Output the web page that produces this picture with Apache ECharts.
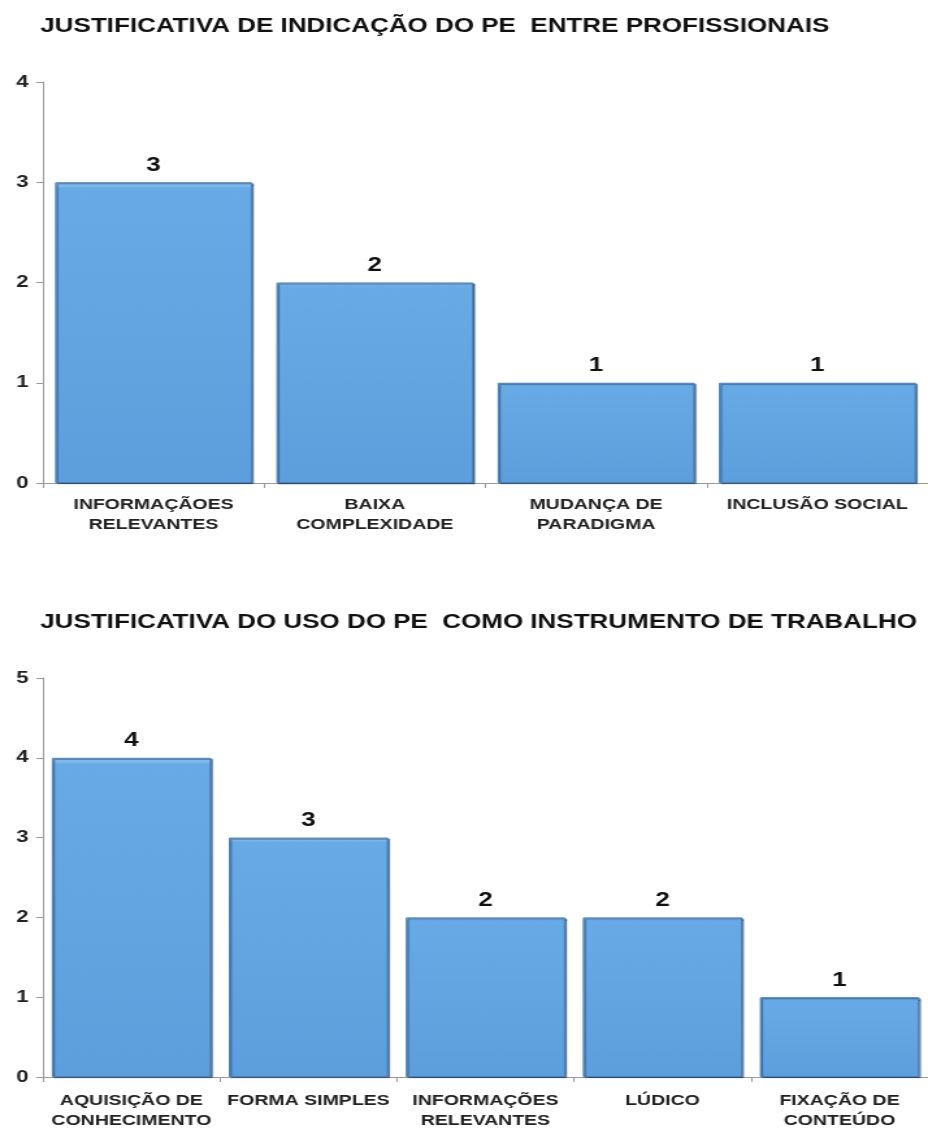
<!DOCTYPE html>
<html><head><meta charset="utf-8">
<script src="https://cdn.jsdelivr.net/npm/echarts@6/dist/echarts.min.js"></script>
<style>
html,body{margin:0;padding:0;background:#fff;overflow:hidden}
#wrap{width:928px;height:1135px;overflow:hidden}
#c{width:714px;height:1135px;transform:scaleX(1.2997);transform-origin:0 0}
</style>
</head><body><div id="wrap"><div id="c"></div></div>
<script>
const title1 = "JUSTIFICATIVA DE INDICAÇÃO DO PE  ENTRE PROFISSIONAIS";
const categories1 = ["INFORMAÇÃOES\nRELEVANTES", "BAIXA\nCOMPLEXIDADE", "MUDANÇA DE\nPARADIGMA", "INCLUSÃO SOCIAL"];
const values1 = [3, 2, 1, 1];
const yTicks1 = {min: 0, max: 4, interval: 1};

const title2 = "JUSTIFICATIVA DO USO DO PE  COMO INSTRUMENTO DE TRABALHO";
const categories2 = ["AQUISIÇÃO DE\nCONHECIMENTO", "FORMA SIMPLES", "INFORMAÇÕES\nRELEVANTES", "LÚDICO", "FIXAÇÃO DE\nCONTEÚDO"];
const values2 = [4, 3, 2, 2, 1];
const yTicks2 = {min: 0, max: 5, interval: 1};

const font = "'Liberation Sans', Arial, sans-serif";
const chart = echarts.init(document.getElementById('c'), null, {renderer: 'canvas'});

const barStyle = {
  color: new echarts.graphic.LinearGradient(0, 0, 0, 1, [
    {offset: 0, color: '#a6d0f4'},
    {offset: 0.02, color: '#68aae5'},
    {offset: 1, color: '#5d9fdc'}
  ]),
  borderColor: '#4a80b6',
  borderWidth: 1,
  shadowColor: 'rgba(35,70,110,0.75)',
  shadowBlur: 1,
  shadowOffsetX: 1.3,
  shadowOffsetY: 1
};
const labelStyle = {show: true, position: 'top', distance: 7, color: '#111', fontWeight: 'bold', fontSize: 20, fontFamily: font};

function xAxis(idx, cats, margin) {
  return {
    type: 'category', gridIndex: idx, data: cats,
    axisLine: {lineStyle: {color: '#9a9a9a', width: 1}},
    axisTick: {show: true, length: 5, lineStyle: {color: '#9a9a9a'}},
    axisLabel: {color: '#222', fontWeight: 'bold', fontSize: 15, fontFamily: font, lineHeight: 20, margin: margin, interval: 0}
  };
}
function yAxis(idx, t) {
  return {
    type: 'value', gridIndex: idx, min: t.min, max: t.max, interval: t.interval,
    splitLine: {show: false},
    axisLine: {show: true, lineStyle: {color: '#9a9a9a', width: 1}},
    axisTick: {show: true, length: 5, lineStyle: {color: '#9a9a9a'}},
    axisLabel: {color: '#222', fontWeight: 'bold', fontSize: 17, fontFamily: font, margin: 11}
  };
}

chart.setOption({
  animation: false,
  backgroundColor: '#fff',
  title: [
    {text: title1, left: 26, top: 11, textStyle: {fontFamily: font, fontWeight: 'bold', fontSize: 20, color: '#111'}},
    {text: title2, left: 26, top: 607, textStyle: {fontFamily: font, fontWeight: 'bold', fontSize: 20, color: '#111'}}
  ],
  grid: [
    {left: 33, top: 82, width: 681, height: 401},
    {left: 33, top: 678, width: 681, height: 399}
  ],
  xAxis: [xAxis(0, categories1, 12), xAxis(1, categories2, 14)],
  yAxis: [yAxis(0, yTicks1), yAxis(1, yTicks2)],
  series: [
    {type: 'bar', xAxisIndex: 0, yAxisIndex: 0, data: values1, barCategoryGap: '11%', itemStyle: barStyle, label: labelStyle},
    {type: 'bar', xAxisIndex: 1, yAxisIndex: 1, data: values2, barCategoryGap: '10%', itemStyle: barStyle, label: labelStyle}
  ]
});
</script></body></html>
